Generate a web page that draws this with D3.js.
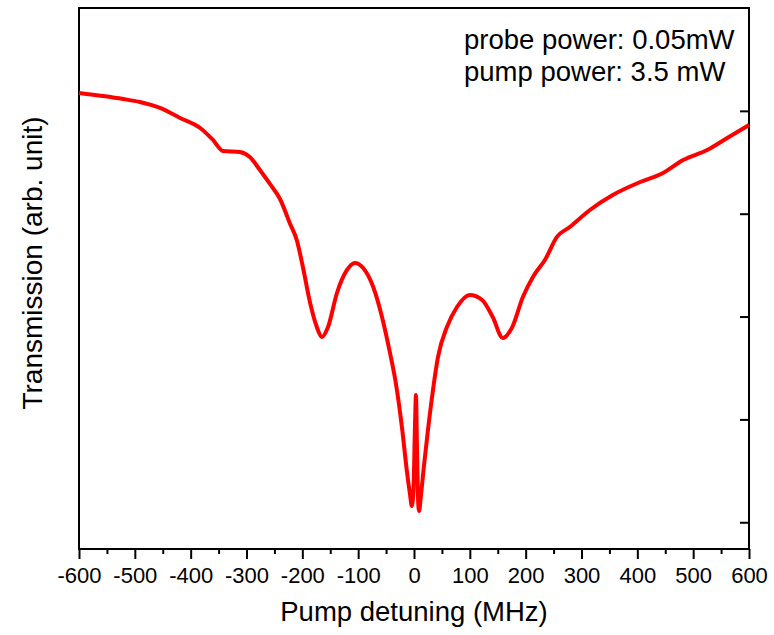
<!DOCTYPE html>
<html>
<head>
<meta charset="utf-8">
<script src="https://cdn.jsdelivr.net/npm/d3@7"></script>
<style>
  body { margin: 0; background: #fff; }
  svg { display: block; font-family: "Liberation Sans", Arial, sans-serif; }
</style>
</head>
<body>
<svg id="chart"></svg>
<script>
// detuning in MHz, transmission in arbitrary units
const detuning = [
  -600, -557, -521, -491, -455, -419, -383, -360, -342, -312, -294, -276,
  -258, -240, -222, -210, -199, -186, -174, -165, -154, -138, -120, -106, -91,
  -73, -56, -43, -32, -21, -13, -7, -4, -1, 2, 3.5, 5.4, 7, 9, 12.5, 18,
  25, 34, 43, 59, 77, 100, 122, 141, 159, 176, 195, 213, 235, 256, 279,
  315, 356, 405, 446, 482, 525, 561, 600
];
const transmission = [
  5.174, 5.144, 5.115, 5.086, 5.028, 4.931, 4.833, 4.717, 4.610, 4.600, 4.551, 4.425,
  4.289, 4.143, 3.903, 3.744, 3.482, 3.132, 2.898, 2.801, 2.898, 3.229, 3.453, 3.521, 3.472,
  3.287, 2.967, 2.646, 2.335, 1.897, 1.508, 1.265, 1.158, 1.314, 1.994, 2.237, 1.703, 1.265, 1.109, 1.265, 1.557,
  1.897, 2.286, 2.607, 2.898, 3.093, 3.210, 3.161, 2.996, 2.792, 2.898, 3.190, 3.385, 3.555, 3.774, 3.871,
  4.036, 4.182, 4.308, 4.396, 4.522, 4.619, 4.736, 4.862
];
const xTicks = [-600, -500, -400, -300, -200, -100, 0, 100, 200, 300, 400, 500, 600];
const xMinorTicks = [-550, -450, -350, -250, -150, -50, 50, 150, 250, 350, 450, 550];
const yTicks = [1, 2, 3, 4, 5];
const notes = ["probe power: 0.05mW", "pump power: 3.5 mW"];

const width = 774;
const height = 635;
const margin = { top: 8, right: 25, bottom: 86, left: 79 };

const svg = d3.select("#chart").attr("width", width).attr("height", height);

const x = d3.scaleLinear().domain([-600, 600]).range([margin.left, width - margin.right]);
const y = d3.scaleLinear().domain([0.74, 6.0]).range([height - margin.bottom, margin.top]);

const data = detuning.map((d, i) => ({ x: d, y: transmission[i] }));

// bottom axis, major + minor ticks
svg.append("g")
  .attr("transform", `translate(0,${height - margin.bottom})`)
  .call(d3.axisBottom(x).tickValues(xMinorTicks).tickSize(5).tickFormat(""))
  .call((g) => g.select(".domain").remove())
  .call((g) => g.selectAll("line").attr("stroke-width", 2));

svg.append("g")
  .attr("transform", `translate(0,${height - margin.bottom})`)
  .call(d3.axisBottom(x).tickValues(xTicks).tickSize(10).tickPadding(8).tickFormat((d) => String(d)))
  .call((g) => g.select(".domain").remove())
  .call((g) => g.selectAll("line").attr("stroke-width", 2))
  .call((g) => g.selectAll("text").attr("font-size", 22).attr("fill", "#000")
    .attr("font-family", "Liberation Sans, Arial, sans-serif"));

// right axis, ticks pointing inward
svg.append("g")
  .attr("transform", `translate(${width - margin.right},0)`)
  .call(d3.axisLeft(y).tickValues(yTicks).tickSize(9).tickFormat(""))
  .call((g) => g.select(".domain").remove())
  .call((g) => g.selectAll("line").attr("stroke-width", 2));

// frame
svg.append("rect")
  .attr("x", margin.left)
  .attr("y", margin.top)
  .attr("width", width - margin.left - margin.right)
  .attr("height", height - margin.top - margin.bottom)
  .attr("fill", "none")
  .attr("stroke", "#000")
  .attr("stroke-width", 2);

// trace
svg.append("path")
  .datum(data)
  .attr("fill", "none")
  .attr("stroke", "#ff0000")
  .attr("stroke-width", 4)
  .attr("stroke-linejoin", "round")
  .attr("d", d3.line().x((d) => x(d.x)).y((d) => y(d.y)).curve(d3.curveMonotoneX));

// annotations
svg.selectAll(".note")
  .data(notes)
  .join("text")
  .attr("class", "note")
  .attr("x", 464)
  .attr("y", (d, i) => 49 + i * 32)
  .attr("font-size", 27.5)
  .attr("fill", "#000")
  .text((d) => d);

// axis titles
svg.append("text")
  .attr("x", (margin.left + width - margin.right) / 2)
  .attr("y", 621)
  .attr("text-anchor", "middle")
  .attr("font-size", 27.5)
  .attr("fill", "#000")
  .text("Pump detuning (MHz)");

svg.append("text")
  .attr("transform", `translate(42,263) rotate(-90)`)
  .attr("text-anchor", "middle")
  .attr("font-size", 28)
  .attr("fill", "#000")
  .text("Transmission (arb. unit)");
</script>
</body>
</html>
